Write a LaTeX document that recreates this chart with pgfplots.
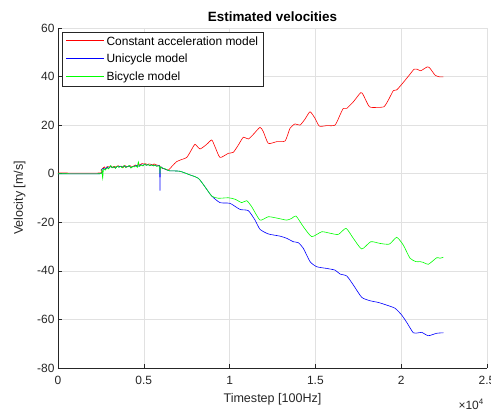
\documentclass[border=0pt]{standalone}
\usepackage{pgfplots}
\pgfplotsset{compat=1.18}
\usepackage{fontspec}
\setmainfont{Liberation Sans}
\definecolor{axgray}{RGB}{38,38,38}
\definecolor{gridgray}{RGB}{225,225,225}
\pgfplotsset{limg/.style={legend image code/.code={\draw[draw=#1, line width=1pt] (0bp,0.5bp) -- (38bp,0.5bp);}}}
\begin{document}
\begin{tikzpicture}
\begin{axis}[
  name=ax,
  scale only axis,
  width=429bp, height=340bp,
  xmin=0, xmax=25000, ymin=-80, ymax=60,
  axis x line*=bottom, axis y line*=left,
  axis line style={axgray, line width=0.6pt, -},
  xtick={0,5000,10000,15000,20000,25000},
  xticklabels={0,0.5,1,1.5,2,2.5},
  scaled x ticks=false,
  ytick={-80,-60,-40,-20,0,20,40,60},
  tick align=inside,
  major tick length=4bp,
  tick style={axgray, line width=0.5pt},
  grid=major,
  major grid style={gridgray, line width=0.6pt},
  /pgf/number format/assume math mode=true,
  ticklabel style={font=\fontsize{12}{14}\selectfont, text=axgray},
  xticklabel style={yshift=-5bp},
  xlabel={Timestep [100Hz]},
  ylabel={Velocity [m/s]},
  label style={font=\fontsize{12.6}{15}\selectfont, text=axgray},
  xlabel style={yshift=-2bp},
  ylabel style={yshift=5bp},
  title={\textbf{Estimated velocities}},
  title style={font=\fontsize{13.5}{15}\selectfont, yshift=-3bp},
  legend cell align=left,
  legend style={at={(0.01,0.988)}, anchor=north west, draw=axgray, fill=white, line width=0.6pt,
     font=\fontsize{12}{14}\selectfont, row sep=3.5bp, inner xsep=3bp, inner ysep=2bp},
  every axis plot/.append style={line width=0.6pt, smooth, tension=0.35},
]
% Red: constant acceleration model
\addplot[red, limg=red] coordinates {
(0,0.3) (2450,0.3) (2500,1.5) (2600,2.2) (2700,2.8) (2800,2.0) (2900,3.0) (3000,2.6) (3100,3.2) (3200,2.5) (3300,3.0) (3400,2.7) (3500,3.3) (3600,2.9) (3700,3.1) (3800,2.6) (3900,3.4) (4000,2.8) (4100,3.0) (4200,3.3) (4300,2.7) (4400,3.1) (4500,3.6) (4600,3.2) (4700,4.0) (4800,3.8) (4900,4.2) (5000,4.0) (5100,4.1) (5200,3.8) (5300,4.0) (5400,3.9) (5500,3.6) (5600,4.0) (5700,3.7) (5800,3.5) (5900,3.4) (6000,2.5) (6200,2.0) (6428,1.5)
(6700,3.5) (6918,5.0) (7110,5.6) (7501,6.7) (7750,9.5) (7984,12.1) (8276,10.2) (8666,12.1) (8958,13.9) (9150,11.1) (9441,6.7) (9925,8.4) (10216,8.8) (10508,11.8) (10799,15.0) (11091,14.3) (11382,16.2) (11773,19.1) (11965,17.3) (12256,12.5) (12746,13.2) (13236,13.5) (13521,18.7) (13813,20.5) (14104,20.0) (14395,22.5) (14687,25.5) (14978,22.8) (15229,19.6) (15660,19.8) (16144,20.0) (16435,24.2) (16627,26.9) (16826,26.9) (17210,29.6) (17642,33.4) (17793,32.4) (18143,27.6) (18574,27.3) (19000,27.6) (19250,30.3) (19542,34.2) (19740,34.5) (20124,37.6) (20515,41.0) (20748,43.0) (20940,43.0) (21139,42.4) (21523,44.0) (21680,43.4) (21972,40.6) (22222,39.9) (22455,39.9)
};
\addlegendentry{Constant acceleration model}
% Blue: unicycle model
\addplot[blue, limg=blue] coordinates {
(0,0) (2450,0) (2550,1.8) (2650,2.2) (2750,1.8) (2850,2.8) (2950,2.2) (3050,3.0) (3150,2.6) (3250,2.8) (3350,2.4) (3450,3.0) (3550,2.8) (3650,3.1) (3750,2.6) (3850,3.2) (3950,2.7) (4050,3.0) (4150,3.2) (4250,2.5) (4350,3.0) (4450,3.0) (4550,3.4) (4650,3.0) (4750,3.4) (4850,3.7) (4950,3.4) (5050,3.9) (5150,3.5) (5250,3.7) (5350,3.4) (5450,3.6) (5550,3.3) (5650,3.5) (5750,3.2) (5850,3.2) (5920,3.0) (5945,-7.0) (5970,2.6) (6100,2.2) (6250,1.9) (6400,1.4) (6500,1.2)
(7110,1.0) (7693,-0.5) (7984,-1.2) (8177,-1.9) (8276,-2.6) (8567,-5.4) (8958,-9.2) (9441,-11.9) (10024,-12.2) (10606,-14.7) (11091,-15.2) (11482,-19.1) (11773,-22.9) (12256,-24.8) (12937,-25.7) (13329,-26.6) (13713,-28.0) (14005,-28.4) (14296,-30.7) (14687,-36.2) (15077,-38.3) (15660,-39.0) (16144,-39.7) (16435,-41.3) (16826,-42.1) (17210,-45.8) (17700,-50.9) (18184,-52.3) (18667,-53.0) (19157,-54.1) (19640,-55.4) (20031,-58.2) (20357,-61.6) (20707,-65.5) (20998,-65.5) (21196,-65.3) (21581,-66.7) (22071,-65.7) (22455,-65.5)
};
\addlegendentry{Unicycle model}
% Green: bicycle model
\addplot[green, limg=green] coordinates {
(0,0) (2450,0) (2550,1.5) (2605,-1.9) (2650,2.0) (2750,1.5) (2850,2.5) (2950,2.0) (3050,3.3) (3150,2.4) (3250,3.0) (3350,2.2) (3450,3.2) (3550,2.6) (3650,3.0) (3750,2.4) (3850,3.4) (3950,2.5) (4050,2.9) (4150,3.4) (4250,2.3) (4350,3.0) (4450,2.8) (4550,3.3) (4620,2.6) (4681,4.9) (4740,3.0) (4850,3.6) (4950,3.2) (5050,4.0) (5150,3.4) (5250,3.8) (5350,3.3) (5450,3.7) (5550,3.2) (5650,3.6) (5750,3.0) (5850,3.3) (5920,3.0) (5945,0.0) (5970,2.8) (6100,2.3) (6250,2.0) (6400,1.4) (6500,1.2)
(7110,1.0) (7693,-0.5) (7984,-1.2) (8177,-1.9) (8276,-2.6) (8567,-5.4) (8958,-9.2) (9342,-10.1) (9925,-9.9) (10316,-10.5) (10706,-11.9) (10997,-11.1) (11289,-13.6) (11773,-19.1) (12256,-17.7) (12839,-18.4) (13329,-19.1) (13620,-18.4) (13871,-17.4) (14296,-21.8) (14786,-25.9) (15369,-23.9) (15852,-24.5) (16336,-25.0) (16785,-22.5) (17210,-26.6) (17700,-31.0) (18225,-28.0) (18766,-28.7) (19308,-29.0) (19740,-26.2) (20124,-29.4) (20515,-34.8) (20864,-36.2) (21097,-36.2) (21290,-36.5) (21581,-37.3) (22071,-34.6) (22263,-34.8) (22455,-34.4)
};
\addlegendentry{Bicycle model}
\end{axis}
\node[anchor=base east, text=axgray, font=\fontsize{12}{14}\selectfont, inner sep=0pt] at ([xshift=-3bp,yshift=-41bp]ax.south east) {×10\textsuperscript{4}};
\pgfresetboundingbox
\useasboundingbox ([xshift=-58bp,yshift=-44bp]ax.south west) rectangle ([xshift=4bp,yshift=28bp]ax.north east);
\end{tikzpicture}
\end{document}
